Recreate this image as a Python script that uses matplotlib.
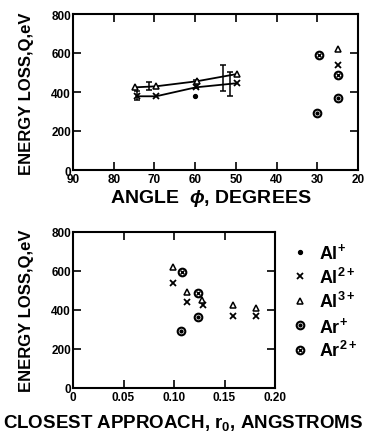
import matplotlib
matplotlib.use('Agg')
import matplotlib.pyplot as plt
from matplotlib.lines import Line2D
from matplotlib.legend_handler import HandlerTuple

plt.rcParams.update({
    'font.family': ['Liberation Sans', 'DejaVu Sans'],
    'font.weight': 'bold',
    'mathtext.fontset': 'custom',
    'mathtext.rm': 'Liberation Sans:bold',
    'mathtext.it': 'Liberation Sans:italic:bold',
    'mathtext.bf': 'Liberation Sans:bold',
})

# ---- top panel: energy loss vs scattering angle ----
ang_al1 = [60]
q_al1 = [378]
ang_al2 = [74.4, 69.6, 59.8, 49.8, 24.8]
q_al2 = [378, 378, 424, 445, 540]
ang_al3 = [74.8, 69.7, 59.6, 49.8, 24.8]
q_al3 = [424, 429, 455, 492, 622]
ang_ar1 = [30.0, 24.8]
q_ar1 = [292, 368]
ang_ar2 = [29.7, 24.8]
q_ar2 = [591, 489]

# curves drawn through the first four points of Al2+ and Al3+
n_line = 4

# error bars
err_ang = [74.2, 71.3, 59.8, 53.1, 51.4]
err_q = [382, 432, 440, 472, 443]
err_dq = [21, 20, 20, 68, 62]

# ---- bottom panel: energy loss vs closest approach ----
r_al2 = [0.0987, 0.1126, 0.1284, 0.158, 0.181]
rq_al2 = [538, 439, 426, 371, 371]
r_al3 = [0.0993, 0.1126, 0.128, 0.158, 0.181]
rq_al3 = [622, 491, 451, 427, 412]
r_ar1 = [0.107, 0.1235]
rq_ar1 = [294, 366]
r_ar2 = [0.108, 0.1235]
rq_ar2 = [593, 486]

labels = ['Al$^{+}$', 'Al$^{2+}$', 'Al$^{3+}$', 'Ar$^{+}$', 'Ar$^{2+}$']

W, H = 366, 435
fig = plt.figure(figsize=(W / 100, H / 100), dpi=100)
ax1 = fig.add_axes([73 / W, 1 - 171 / H, 285 / W, 156 / H])
ax2 = fig.add_axes([73 / W, 1 - 389 / H, 202 / W, 156 / H])

tri = dict(marker='^', ms=5, mfc='white', mec='black', mew=1.1, ls='none', color='black')
crs = dict(marker='x', ms=4.5, mew=1.3, ls='none', color='black')
dot = dict(marker='o', ms=2.8, color='black', ls='none')
ring = dict(marker='o', ms=5.5, mfc='white', mec='black', mew=1.5, ls='none')
cdot = dict(marker='o', ms=2.0, color='black', ls='none')
cx = dict(marker='x', ms=2.8, mew=1.0, color='black', ls='none')


def draw_points(ax, x2, y2, x3, y3, xa1, ya1, xa2, ya2):
    ax.plot(x2, y2, **crs)
    ax.plot(x3, y3, **tri)
    ax.plot(xa1, ya1, **ring)
    ax.plot(xa1, ya1, **cdot)
    ax.plot(xa2, ya2, **ring)
    ax.plot(xa2, ya2, **cx)


# top
ax1.plot(ang_al3[:n_line], q_al3[:n_line], color='black', lw=1.3)
ax1.plot(ang_al2[:n_line], q_al2[:n_line], color='black', lw=1.3)
ax1.errorbar(err_ang, err_q, yerr=err_dq, fmt='none', ecolor='black',
             elinewidth=1.1, capsize=2.5, capthick=1.1)
ax1.plot(ang_al1, q_al1, **dot)
draw_points(ax1, ang_al2, q_al2, ang_al3, q_al3, ang_ar1, q_ar1, ang_ar2, q_ar2)
ax1.set_xlim(90, 20)
ax1.set_xticks(range(90, 19, -10))

# bottom
draw_points(ax2, r_al2, rq_al2, r_al3, rq_al3, r_ar1, rq_ar1, r_ar2, rq_ar2)
ax2.set_xlim(0, 0.20)
ax2.set_xticks([0, 0.05, 0.10, 0.15, 0.20])
ax2.set_xticklabels(['0', '0.05', '0.10', '0.15', '0.20'])

for ax in (ax1, ax2):
    ax.set_ylim(0, 800)
    ax.set_yticks([0, 200, 400, 600, 800])
    ax.tick_params(direction='in', length=6, width=1.2, top=True, right=True,
                   labelsize=8.5, pad=1.5)
    ax.tick_params(axis='x', pad=2.5)
    for s in ax.spines.values():
        s.set_linewidth(1.5)
    for t in ax.get_xticklabels() + ax.get_yticklabels():
        t.set_fontweight('bold')

# axis titles
fig.text(27 / W, 1 - 94 / H, 'ENERGY LOSS,Q,eV', rotation=90,
         ha='center', va='center', fontsize=12, fontweight='bold')
fig.text(27 / W, 1 - 311 / H, 'ENERGY LOSS,Q,eV', rotation=90,
         ha='center', va='center', fontsize=12, fontweight='bold')
fig.text(211 / W, 1 - 203 / H, r'ANGLE  $\phi$, DEGREES',
         ha='center', va='baseline', fontsize=14, fontweight='bold')
fig.text(183 / W, 1 - 428 / H, r'CLOSEST APPROACH, r$_0$, ANGSTROMS',
         ha='center', va='baseline', fontsize=13.5, fontweight='bold')

# legend
handles = [
    Line2D([], [], **dot),
    Line2D([], [], **crs),
    Line2D([], [], **tri),
    (Line2D([], [], **ring), Line2D([], [], **cdot)),
    (Line2D([], [], **ring), Line2D([], [], **cx)),
]
leg = ax2.legend(handles, labels, loc='upper left',
                 bbox_to_anchor=(292 / W, 1 - 243 / H),
                 bbox_transform=fig.transFigure, frameon=False,
                 fontsize=13, handlelength=0.9, handletextpad=0.6,
                 labelspacing=0.25, borderpad=0, borderaxespad=0,
                 handler_map={tuple: HandlerTuple(ndivide=1)})

fig.savefig('out.png', dpi=100)
